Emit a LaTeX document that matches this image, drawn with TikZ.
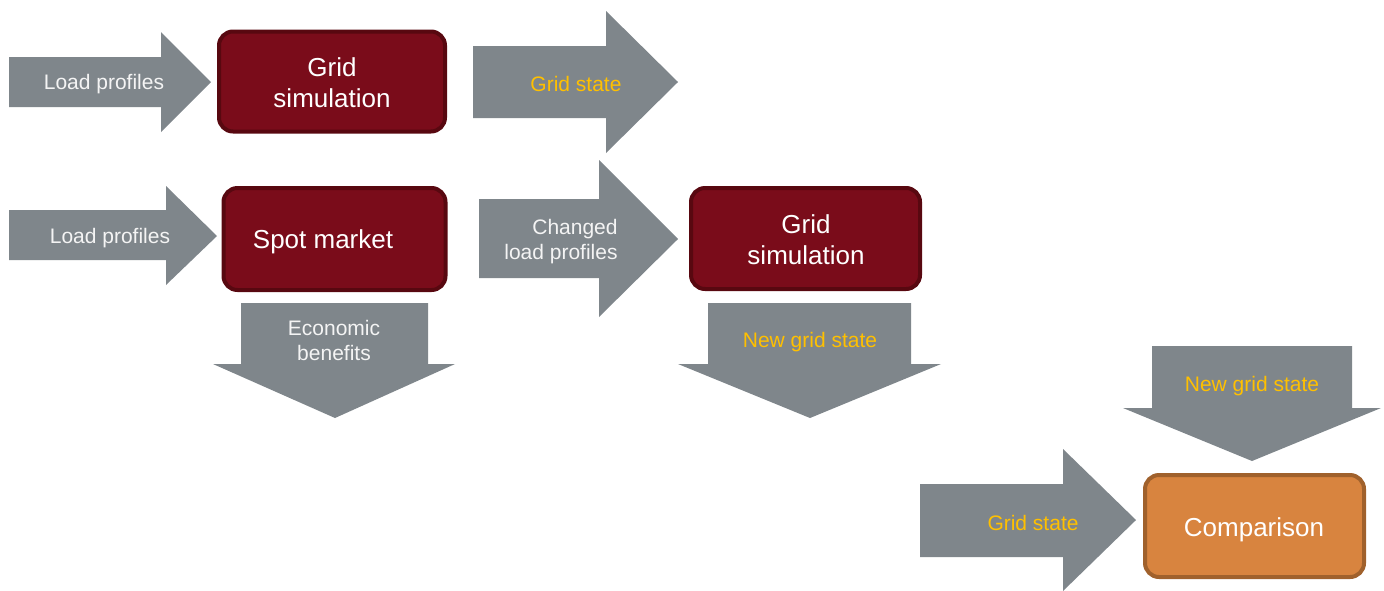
\documentclass[tikz,border=0pt]{standalone}
\usepackage{fontspec}
\setmainfont{Liberation Sans}
\definecolor{arrowgrey}{HTML}{7F868B}
\definecolor{boxred}{HTML}{7A0C1A}
\definecolor{boxredline}{HTML}{580810}
\definecolor{boxorange}{HTML}{D8843F}
\definecolor{boxorangeline}{HTML}{A0612C}
\definecolor{stateyellow}{HTML}{FFC000}
\definecolor{arrowtext}{HTML}{F4F4F4}
\begin{document}
\begin{tikzpicture}[x=0.5pt,y=-0.5pt,
  bigarrow/.style={fill=arrowgrey, draw=none},
  redbox/.style={draw=boxredline, fill=boxred, line width=2pt, rounded corners=7pt,
    inner sep=0pt, text=white, font=\fontsize{13}{15.5}\selectfont, align=center},
  orangebox/.style={draw=boxorangeline, fill=boxorange, line width=2pt, rounded corners=7pt,
    inner sep=0pt, text=white, font=\fontsize{13}{15.5}\selectfont, align=center},
  boxtext/.style={text=white, font=\fontsize{13}{15.5}\selectfont, align=center, inner sep=0pt},
  greytext/.style={text=arrowtext, font=\fontsize{10.5}{12.5}\selectfont, align=center, inner sep=0pt},
  statetext/.style={text=stateyellow, font=\fontsize{10.5}{12.5}\selectfont, align=center, inner sep=0pt}]
\useasboundingbox (0,0) rectangle (1384,590);

% right arrows
\fill[bigarrow] (9,57) -- (161,57) -- (161,32) -- (211,82) -- (161,132) -- (161,107) -- (9,107) -- cycle;
\fill[bigarrow] (473,46) -- (606,46) -- (606,11) -- (678,82) -- (606,153) -- (606,118) -- (473,118) -- cycle;
\fill[bigarrow] (9,210) -- (166,210) -- (166,186) -- (217,236) -- (166,285) -- (166,260) -- (9,260) -- cycle;
\fill[bigarrow] (479,199) -- (599,199) -- (599,160) -- (678,239) -- (599,317) -- (599,278) -- (479,278) -- cycle;
\fill[bigarrow] (920,484) -- (1063,484) -- (1063,449) -- (1136,520) -- (1063,591) -- (1063,557) -- (920,557) -- cycle;

% down arrows
\fill[bigarrow] (241,303) -- (428,303) -- (428,364) -- (455,364) -- (335,418) -- (213,364) -- (241,364) -- cycle;
\fill[bigarrow] (708,303) -- (911,303) -- (911,364) -- (941,364) -- (810,418) -- (678,364) -- (708,364) -- cycle;
\fill[bigarrow] (1152,346) -- (1352,346) -- (1352,408) -- (1381,408) -- (1252,461) -- (1123,408) -- (1152,408) -- cycle;

% boxes
\node[redbox, minimum width=113pt, minimum height=50pt] (gs1) at (332,81.5) {};
\node[boxtext] (gs1t) at (332,83) {Grid\\simulation};
\node[redbox, minimum width=111pt, minimum height=51pt] (spot) at (334.5,239) {};
\node[boxtext] (spott) at (323,241.5) {Spot market};
\node[redbox, minimum width=114.5pt, minimum height=50.5pt] (gs2) at (805.5,238.5) {};
\node[boxtext] (gs2t) at (806,240) {Grid\\simulation};
\node[orangebox, minimum width=109.5pt, minimum height=51pt] (comp) at (1254.5,526) {};
\node[boxtext] (compt) at (1254,529.5) {Comparison};

% arrow texts
\node[greytext] (lp1) at (104,84) {Load profiles};
\node[statetext] (gst1) at (576,83.5) {Grid state};
\node[greytext] (lp2) at (110,238) {Load profiles};
\node[greytext, align=right, anchor=east] (clp) at (618,241.5) {Changed\\load profiles};
\node[greytext] (eb) at (334,340) {Economic\\benefits};
\node[statetext] (ngs1) at (810,342) {New grid state};
\node[statetext] (ngs2) at (1252,386) {New grid state};
\node[statetext] (gst2) at (1033,522.5) {Grid state};
\end{tikzpicture}
\end{document}
